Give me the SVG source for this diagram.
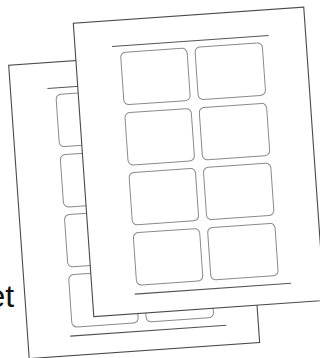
<svg xmlns="http://www.w3.org/2000/svg" xmlns:xlink="http://www.w3.org/1999/xlink" width="320" height="358" viewBox="0 0 320 358">
  <style>
    .paper { fill: #ffffff; stroke: #4a4a4a; stroke-width: 1.1; }
    .rule { fill: none; stroke: #555555; stroke-width: 1.1; }
    .label { fill: none; stroke: #8a8a8a; stroke-width: 1; }
    .txt { font-family: "Liberation Sans", Arial, sans-serif; font-size: 32px; fill: #111111; }
  </style>
  <defs>
    <g id="sheet">
      <rect class="paper" x="0" y="0" width="231" height="294"/>
      <line class="rule" x1="37" y1="25.8" x2="194" y2="25.8"/>
      <line class="rule" x1="42.5" y1="274.5" x2="199" y2="274.5"/>
      <rect class="label" x="45" y="32.5" width="66.5" height="52.5" rx="5"/>
      <rect class="label" x="119.5" y="32.5" width="67.5" height="52.5" rx="5"/>
      <rect class="label" x="45" y="93" width="66.5" height="52.5" rx="5"/>
      <rect class="label" x="119.5" y="93" width="67.5" height="52.5" rx="5"/>
      <rect class="label" x="45" y="153" width="66.5" height="52.5" rx="5"/>
      <rect class="label" x="119.5" y="153" width="67.5" height="52.5" rx="5"/>
      <rect class="label" x="45" y="213.3" width="66.5" height="52.5" rx="5"/>
      <rect class="label" x="119.5" y="213.3" width="67.5" height="52.5" rx="5"/>
    </g>
  </defs>
  <g id="back-sheet" transform="translate(8.7,65.3) rotate(-4)">
    <use xlink:href="#sheet" href="#sheet"/>
  </g>
  <g id="caption">
    <text class="txt" x="-12.5" y="307">et</text>
  </g>
  <g id="front-sheet" transform="translate(73.3,23.3) rotate(-4)">
    <use xlink:href="#sheet" href="#sheet"/>
  </g>
  <g id="connectors"/>
</svg>
